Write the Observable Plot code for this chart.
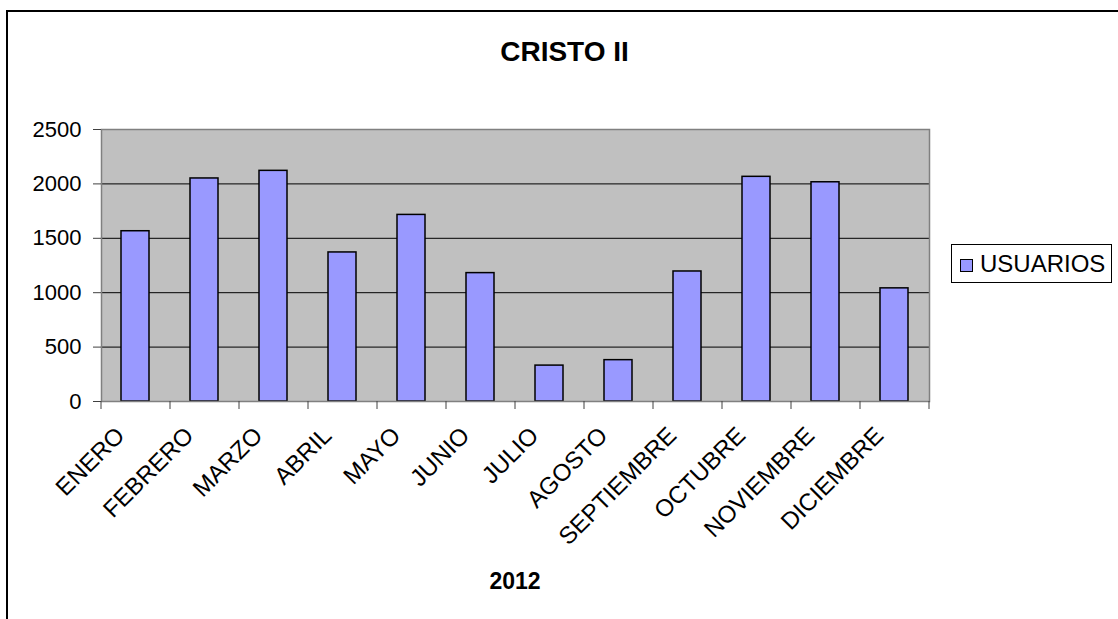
<!DOCTYPE html>
<html>
<head>
<meta charset="utf-8">
<script src="https://cdn.jsdelivr.net/npm/d3@7"></script>
<script src="https://cdn.jsdelivr.net/npm/@observablehq/plot@0.6"></script>
<style>
  html, body { margin: 0; padding: 0; background: #fff; }
  #wrap { position: relative; width: 1118px; height: 619px; overflow: hidden; background: #fff;
          font-family: "Liberation Sans", Arial, sans-serif; color: #000; }
  #wrap svg { position: absolute; left: 0; top: 0; }
  #outer { position: absolute; left: 6px; top: 10px; width: 1200px; height: 700px;
           border-left: 2px solid #000; border-top: 2px solid #000; box-sizing: border-box; }
  #title { position: absolute; left: 0; width: 1129px; top: 37px; text-align: center;
           font-weight: bold; font-size: 28px; line-height: 30px; }
  #xlabel { position: absolute; left: 0; width: 1030px; top: 568px; text-align: center;
            font-weight: bold; font-size: 23px; line-height: 26px; }
  #legend { position: absolute; left: 951px; top: 244px; width: 161px; height: 39px;
            border: 1px solid #000; box-sizing: border-box; background: #fff; }
  #legend .sw { position: absolute; left: 8px; top: 14px; width: 13px; height: 13px;
                background: #9999ff; border: 1px solid #000; box-sizing: border-box; }
  #legend .lb { position: absolute; left: 28px; top: 6px; font-size: 24px; line-height: 26px; }
</style>
</head>
<body>
<div id="wrap">
  <div id="outer"></div>
  <div id="title">CRISTO II</div>
  <div id="xlabel">2012</div>
  <div id="legend"><div class="sw"></div><div class="lb">USUARIOS</div></div>
</div>
<script>
const months = ["ENERO","FEBRERO","MARZO","ABRIL","MAYO","JUNIO","JULIO","AGOSTO","SEPTIEMBRE","OCTUBRE","NOVIEMBRE","DICIEMBRE"];
const usuarios = [1565, 2050, 2120, 1370, 1715, 1180, 330, 380, 1195, 2065, 2015, 1040];
const yTicks = [0, 500, 1000, 1500, 2000, 2500];
const gridTicks = [500, 1000, 1500, 2000];
const seriesName = "USUARIOS";

const data = months.map((m, i) => ({month: m, value: usuarios[i], series: seriesName}));

const W = 1118, H = 619;
const mL = 101, mR = 189, mT = 129, mB = 218;
const step = (W - mL - mR) / months.length;

const chart = Plot.plot({
  width: W,
  height: H,
  marginLeft: mL,
  marginRight: mR,
  marginTop: mT,
  marginBottom: mB,
  style: {fontFamily: "'Liberation Sans', Arial, sans-serif", color: "#000", background: "transparent", overflow: "visible"},
  x: {domain: months, paddingInner: 0.59, paddingOuter: 0.295, axis: null},
  y: {domain: [0, 2500], axis: null},
  marks: [
    Plot.frame({fill: "#c0c0c0", stroke: "none"}),
    Plot.gridY(gridTicks, {stroke: "#000", strokeOpacity: 1, strokeWidth: 1}),
    Plot.barY(data, {x: "month", y: "value", fill: "#9999ff", stroke: "#000", strokeWidth: 1.5}),
    Plot.frame({stroke: "#808080", strokeWidth: 1.5}),
    Plot.axisY({ticks: yTicks, tickFormat: d => String(d), tickSize: 8, tickPadding: 12, fontSize: 22, label: null, stroke: "#404040"}),
    Plot.axisX({ticks: months, tickSize: 8, tickFormat: () => "", label: null, dx: -step / 2, stroke: "#404040"}),
    Plot.axisX({ticks: [months[months.length - 1]], tickSize: 8, tickFormat: () => "", label: null, dx: step / 2, stroke: "#404040"}),
    Plot.text(months, {x: d => d, frameAnchor: "bottom", text: d => d, rotate: -45, textAnchor: "end",
      lineAnchor: "middle", dx: -15, dy: 30, fontSize: 24, fill: "#000"})
  ]
});
document.getElementById("wrap").appendChild(chart);
</script>
</body>
</html>
